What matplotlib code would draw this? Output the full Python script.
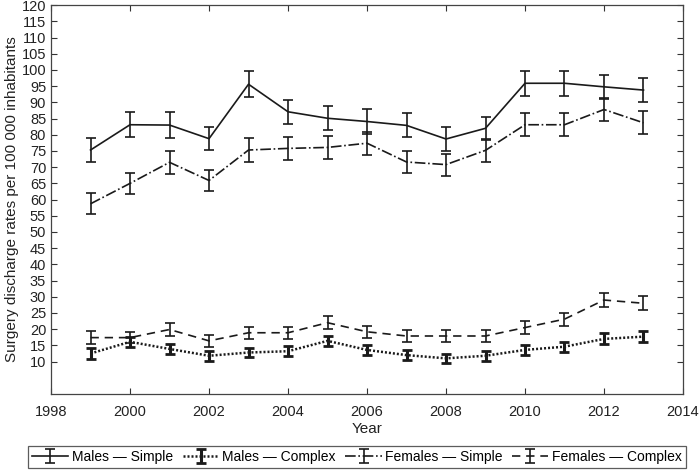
import matplotlib
matplotlib.use("Agg")
import matplotlib.pyplot as plt
import numpy as np

plt.rcParams['font.family'] = ['Liberation Sans', 'DejaVu Sans']

years = list(range(1999, 2014))
males_simple = [75.3, 83.1, 83.0, 78.8, 95.6, 87.1, 85.1, 84.1, 82.9, 78.7, 82.0, 95.9, 95.9, 94.8, 93.8]
males_simple_err = [3.6, 3.9, 3.9, 3.6, 4.0, 3.7, 3.7, 3.8, 3.7, 3.6, 3.6, 3.9, 3.9, 3.8, 3.7]
males_complex = [12.5, 16.1, 13.9, 11.8, 12.8, 13.2, 16.4, 13.6, 12.0, 11.0, 11.8, 13.6, 14.6, 17.0, 17.7]
males_complex_err = [1.6, 1.6, 1.5, 1.5, 1.5, 1.5, 1.6, 1.5, 1.5, 1.4, 1.5, 1.5, 1.6, 1.7, 1.7]
females_simple = [58.7, 65.0, 71.5, 65.9, 75.3, 75.8, 76.1, 77.4, 71.6, 70.8, 75.2, 83.1, 83.1, 87.8, 83.7]
females_simple_err = [3.2, 3.3, 3.5, 3.3, 3.6, 3.6, 3.6, 3.6, 3.5, 3.4, 3.5, 3.6, 3.6, 3.6, 3.6]
females_complex = [17.4, 17.4, 19.9, 16.4, 18.9, 18.9, 22.0, 19.2, 17.9, 17.9, 17.9, 20.5, 23.1, 29.0, 28.0]
females_complex_err = [1.9, 1.8, 1.9, 1.8, 1.9, 1.9, 2.0, 1.9, 1.8, 1.8, 1.8, 1.9, 2.0, 2.3, 2.2]

xticks = list(range(1998, 2015, 2))
yticks = list(range(10, 121, 5))

fig = plt.figure(figsize=(7.0, 4.71), dpi=100)
ax = fig.add_axes([0.0729, 0.1635, 0.9028, 0.8255])

col = '#1a1a1a'
h1 = ax.errorbar(years, males_simple, yerr=males_simple_err, color=col, linestyle='-',
                 linewidth=1.2, elinewidth=1.2, capsize=3.5, capthick=1.2,
                 label='Males \u2014 Simple')
h2 = ax.errorbar(years, males_complex, yerr=males_complex_err, color=col, linestyle=(0, (0.8, 0.8)),
                 linewidth=1.8, elinewidth=2.2, capsize=3.5, capthick=2.0,
                 label='Males \u2014 Complex')
h3 = ax.errorbar(years, females_simple, yerr=females_simple_err, color=col, linestyle='-.',
                 linewidth=1.2, elinewidth=1.2, capsize=3.5, capthick=1.2,
                 label='Females \u2014 Simple')
h4 = ax.errorbar(years, females_complex, yerr=females_complex_err, color=col, linestyle=(0, (5, 3.5)),
                 linewidth=1.2, elinewidth=1.2, capsize=3.5, capthick=1.2,
                 label='Females \u2014 Complex')

ax.set_xlim(1998, 2014)
ax.set_ylim(0, 120)
ax.set_xticks(xticks)
ax.set_yticks(yticks)
ax.tick_params(direction='in', length=4, width=0.8, colors='#333333', labelsize=10.5,
               top=True, right=True, labelcolor='#222222')
ax.tick_params(axis='x', pad=8)
for s in ax.spines.values():
    s.set_color('#444444')
    s.set_linewidth(0.9)

ax.set_xlabel('Year', fontsize=11, color='#222222', labelpad=2)
ax.set_ylabel('Surgery discharge rates per 100 000 inhabitants', fontsize=11, color='#222222', labelpad=2)

leg = fig.legend(handles=[h1, h2, h3, h4], loc='lower center', ncol=4,
                 bbox_to_anchor=(0.51, 0.0), fontsize=10, frameon=True, fancybox=False,
                 edgecolor='#333333', handlelength=2.6, handletextpad=0.25, columnspacing=0.7,
                 borderpad=0.3, borderaxespad=0.2)
leg.get_frame().set_linewidth(0.9)

fig.savefig('out.png', dpi=100)
